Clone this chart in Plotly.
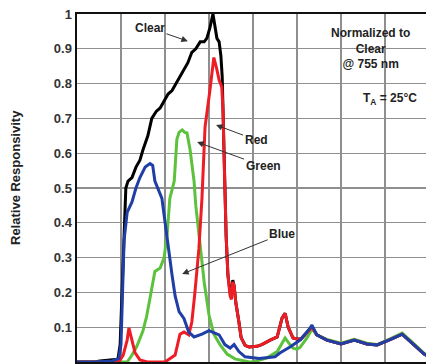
import plotly.graph_objects as go

# Wavelength (nm) / relative responsivity
clear_wl = [300, 340, 352, 375, 393, 398, 402, 407, 411, 416, 425, 434, 443, 450, 461, 470, 480, 489, 498, 507, 516, 525, 534, 543, 552, 561, 570, 580, 589, 595, 602, 609, 614, 618, 623, 627, 630, 632, 634, 636, 639, 643, 648, 651, 654, 657, 661, 668, 673, 682, 691, 709, 720, 739, 755, 766, 773, 780, 791, 800, 809, 823, 834, 845, 868, 900, 930, 959, 982, 1014, 1039, 1066, 1089, 1100]
clear_val = [0, 0, 0.003, 0.006, 0.008, 0.05, 0.2, 0.4, 0.5, 0.52, 0.53, 0.56, 0.58, 0.61, 0.65, 0.70, 0.72, 0.73, 0.75, 0.77, 0.78, 0.80, 0.82, 0.84, 0.86, 0.89, 0.90, 0.92, 0.92, 0.93, 0.96, 1.0, 0.96, 0.93, 0.92, 0.88, 0.82, 0.72, 0.6, 0.48, 0.36, 0.25, 0.2, 0.19, 0.235, 0.22, 0.17, 0.115, 0.07, 0.048, 0.043, 0.045, 0.05, 0.063, 0.072, 0.126, 0.14, 0.10, 0.069, 0.066, 0.066, 0.085, 0.10, 0.078, 0.063, 0.052, 0.063, 0.052, 0.049, 0.066, 0.08, 0.049, 0.023, 0.015]

red_wl = [300, 395, 405, 414, 418, 425, 432, 443, 460, 500, 523, 534, 543, 554, 561, 568, 577, 584, 591, 602, 607, 611, 618, 623, 629, 632, 634, 636, 639, 643, 648, 651, 654, 657, 661, 668, 673, 682, 691, 709, 720, 739, 755, 766, 773, 780, 791, 800, 809, 823, 834, 845, 868, 900, 930, 959, 982, 1014, 1039, 1066, 1089, 1100]
red_val = [0, 0, 0.02, 0.063, 0.098, 0.06, 0.026, 0.006, 0, 0, 0.02, 0.08, 0.086, 0.078, 0.115, 0.2, 0.325, 0.47, 0.675, 0.78, 0.83, 0.875, 0.84, 0.81, 0.79, 0.72, 0.6, 0.48, 0.36, 0.25, 0.19, 0.18, 0.23, 0.22, 0.17, 0.115, 0.07, 0.048, 0.043, 0.045, 0.05, 0.063, 0.072, 0.126, 0.14, 0.10, 0.069, 0.066, 0.066, 0.085, 0.10, 0.078, 0.063, 0.052, 0.063, 0.052, 0.049, 0.066, 0.08, 0.049, 0.023, 0.015]

green_wl = [300, 414, 425, 436, 450, 458, 464, 477, 489, 498, 505, 511, 521, 527, 532, 539, 545, 550, 557, 566, 570, 577, 589, 600, 611, 625, 641, 659, 691, 700, 732, 755, 773, 784, 791, 800, 807, 823, 834, 845, 868, 900, 930, 959, 982, 1014, 1039, 1066, 1089, 1100]
green_val = [0, 0, 0.02, 0.045, 0.09, 0.13, 0.17, 0.26, 0.27, 0.30, 0.37, 0.47, 0.52, 0.64, 0.66, 0.667, 0.66, 0.658, 0.61, 0.52, 0.45, 0.37, 0.23, 0.135, 0.08, 0.05, 0.023, 0.009, 0, 0, 0.012, 0.03, 0.069, 0.05, 0.04, 0.037, 0.042, 0.07, 0.095, 0.078, 0.065, 0.054, 0.065, 0.054, 0.05, 0.068, 0.083, 0.052, 0.025, 0.016]

blue_wl = [300, 340, 380, 395, 400, 403, 407, 414, 425, 434, 443, 455, 466, 472, 477, 493, 500, 509, 516, 523, 532, 543, 554, 566, 584, 600, 623, 636, 648, 657, 668, 682, 714, 750, 761, 784, 807, 830, 834, 845, 868, 900, 930, 959, 982, 1014, 1039, 1066, 1089, 1100]
blue_val = [0, 0, 0.003, 0.01, 0.05, 0.2, 0.35, 0.43, 0.46, 0.50, 0.53, 0.56, 0.57, 0.565, 0.52, 0.47, 0.40, 0.325, 0.25, 0.19, 0.145, 0.125, 0.086, 0.072, 0.08, 0.09, 0.078, 0.05, 0.04, 0.05, 0.03, 0.015, 0.01, 0.015, 0.026, 0.043, 0.063, 0.098, 0.106, 0.078, 0.063, 0.052, 0.063, 0.052, 0.049, 0.066, 0.08, 0.049, 0.023, 0.015]

y_ticks = [0, 0.1, 0.2, 0.3, 0.4, 0.5, 0.6, 0.7, 0.8, 0.9, 1]
y_tick_text = ["0", "0.1", "0.2", "0.3", "0.4", "0.5", "0.6", "0.7", "0.8", "0.9", "1"]

FONT = "Liberation Sans, Arial, sans-serif"

fig = go.Figure()
for wl, val, col in [
    (clear_wl, clear_val, "#000000"),
    (green_wl, green_val, "#5cc13c"),
    (red_wl, red_val, "#ee1c25"),
    (blue_wl, blue_val, "#1f3ea6"),
]:
    fig.add_trace(go.Scatter(x=wl, y=val, mode="lines",
                             line=dict(color=col, width=3), showlegend=False,
                             hoverinfo="skip"))

arrow_common = dict(showarrow=True, arrowhead=2, arrowsize=1.3, arrowwidth=1,
                    arrowcolor="#333333", standoff=0, xref="x", yref="y",
                    font=dict(family=FONT, size=12, color="#222222", weight="bold"))
fig.add_annotation(text="Clear", x=552, y=0.922, ax=-38, ay=-13, **arrow_common)
fig.add_annotation(text="Red", x=616, y=0.681, ax=40, ay=15, **arrow_common)
fig.add_annotation(text="Green", x=573, y=0.632, ax=66, ay=24, **arrow_common)
fig.add_annotation(text="Blue", x=539, y=0.253, ax=100, ay=-40, **arrow_common)

fig.add_annotation(text="Normalized to<br>Clear<br>@ 755 nm", xref="paper", yref="paper",
                   x=(370 - 77) / 349, y=(362 - 48) / 348, xanchor="center", yanchor="middle",
                   showarrow=False, font=dict(family=FONT, size=12, color="#222222", weight="bold"))
fig.add_annotation(text="T<sub>A</sub> = 25°C", xref="paper", yref="paper",
                   x=(390 - 77) / 349, y=(362 - 99) / 348, xanchor="center", yanchor="middle",
                   showarrow=False, font=dict(family=FONT, size=12, color="#222222", weight="bold"))
fig.add_annotation(text="Relative Responsivity", xref="paper", yref="paper",
                   x=(16 - 77) / 349, y=(362 - 177) / 348, xanchor="center", yanchor="middle",
                   textangle=-90, showarrow=False,
                   font=dict(family=FONT, size=13, color="#222222", weight="bold"))

fig.update_layout(
    width=426, height=364,
    margin=dict(l=77, r=0, t=14, b=2),
    paper_bgcolor="white", plot_bgcolor="white",
    hovermode=False,
    xaxis=dict(range=[300, 300 + 349 / 0.44], dtick=100, tick0=300, showticklabels=False,
               showgrid=True, gridcolor="#8f8f8f", gridwidth=1.3, zeroline=False,
               showline=True, linecolor="#111111", linewidth=2.5, mirror=True, ticks=""),
    yaxis=dict(range=[0, 1], tickvals=y_ticks, ticktext=y_tick_text,
               showgrid=True, gridcolor="#8f8f8f", gridwidth=1.3, zeroline=False,
               showline=True, linecolor="#111111", linewidth=2.5, mirror=False, ticks="",
               tickfont=dict(family=FONT, size=13, color="#333333", weight="bold")),
)
fig.write_html("out.html", config={"displayModeBar": False, "staticPlot": True})

# remove the default page margin so the figure sits at the window's top-left corner
with open("out.html", "r", encoding="utf-8") as f:
    html = f.read()
html = html.replace("<head>", "<head><style>html,body{margin:0;padding:0;overflow:hidden;}</style>", 1)
with open("out.html", "w", encoding="utf-8") as f:
    f.write(html)
